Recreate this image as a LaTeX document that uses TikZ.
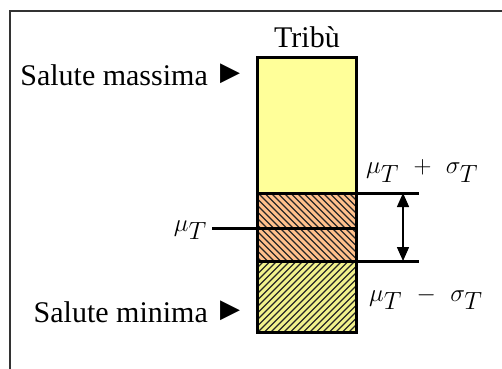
\documentclass[tikz,border=0pt]{standalone}
\usepackage{fontspec}
\setmainfont{Liberation Serif}
\newfontfamily\symfont{DejaVu Sans}
\usetikzlibrary{arrows.meta}
\definecolor{topyel}{HTML}{FFFF99}
\definecolor{midor}{HTML}{FFC08C}
\definecolor{lowyel}{HTML}{F2F28C}
\tikzset{
  lbl/.style={font=\fontsize{30}{34}\selectfont, inner sep=0pt},
  mlbl/.style={font=\fontsize{36}{40}\selectfont, inner sep=0pt},
  thick line/.style={line width=3pt},
  hatch/.style={line width=1.3pt, black!85},
  tri/.style={font=\symfont\fontsize{26}{30}\selectfont, inner sep=0pt}
}
\begin{document}
\begin{tikzpicture}[x=1pt,y=-1pt]
\useasboundingbox (0,0) rectangle (502,368);
% frame
\draw[line width=2pt, black!80] (10,375) -- (10,11) -- (510,11);
% coordinates
\coordinate (tl) at (257,57);
\coordinate (br) at (356,332);
\coordinate (a1) at (257,193);
\coordinate (a2) at (356,193);
\coordinate (b1) at (257,261);
\coordinate (b2) at (356,261);
\coordinate (m1) at (212,228);
\coordinate (m2) at (356,228);
\coordinate (ae) at (419,193);
\coordinate (be) at (419,261);
\coordinate (ua) at (403,193);
\coordinate (ub) at (403,261);
% fills
\fill[topyel] (tl) rectangle (a2);
\fill[midor] (a1) rectangle (b2);
\fill[lowyel] (b1) rectangle (br);
\begin{scope}
\clip (a1) rectangle (b2);
\foreach \i in {0,...,30} \draw[hatch] ({257-80+6.5*\i},190) -- ++(80,80);
\end{scope}
\begin{scope}
\clip (b1) rectangle (br);
\foreach \i in {0,...,30} \draw[hatch] ({257-80+6.5*\i},335) -- ++(80,-80);
\end{scope}
% outline and lines
\draw[thick line] (tl) rectangle (br);
\draw[thick line] (a1) -- (ae);
\draw[thick line] (b1) -- (be);
\draw[thick line] (m1) -- (m2);
\draw[line width=1.5pt, {Triangle[width=12pt,length=14pt]}-{Triangle[width=12pt,length=14pt]}] (ua) -- (ub);
% labels
\node[lbl] (tribu) at (307,37) {Tribù};
\node[lbl, anchor=east] (smax) at (208,75) {Salute massima};
\node[tri, anchor=west] (tmax) at (220,74) {▶};
\node[lbl, anchor=east] (smin) at (208,312) {Salute minima};
\node[tri, anchor=west] (tmin) at (220,311) {▶};
\node[mlbl, anchor=east] (mu) at (207,230) {$\mu_T$};
\node[mlbl, anchor=west] (plus) at (366,171) {$\mu_T\ +\ \sigma_T$};
\node[mlbl, anchor=west] (minus) at (369,298) {$\mu_T\ -\ \sigma_T$};
\end{tikzpicture}
\end{document}
